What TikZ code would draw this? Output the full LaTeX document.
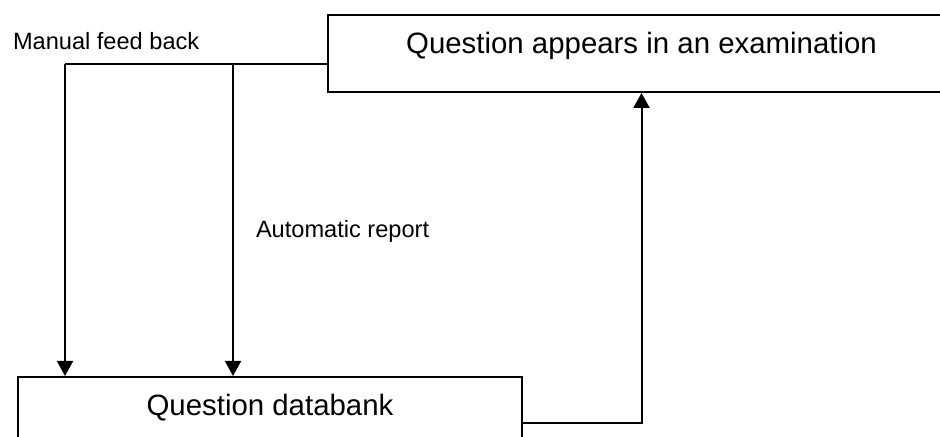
\documentclass[tikz,border=0pt]{standalone}
\usepackage{fontspec}
\setmainfont{Liberation Sans}
\usetikzlibrary{arrows.meta, calc}

\begin{document}
\begin{tikzpicture}[x=0.5pt, y=-0.5pt, >={Triangle[width=8pt,length=7.5pt]},
	line width=1pt, line join=miter,
	box/.style={draw, line width=1pt, inner xsep=0pt, inner ysep=0pt,
		text height=19.5pt, text depth=19pt, font=\fontsize{14.7}{17}\selectfont},
	tag/.style={inner sep=0pt, font=\fontsize{11.8}{14}\selectfont}]
%========================
% page frame
%========================
\useasboundingbox (0,0) rectangle (940,437);
\clip (0,0) rectangle (940,437);

% boxes
\node[box, anchor=north west, minimum width=313.5pt] (exam) at (327,14)
	{Question appears in an examination};
\node[box, anchor=north west, minimum width=252pt, text height=19pt] (databank) at (17,376)
	{Question databank};

% labels
\node[tag, anchor=base west] (manual) at (12,50) {Manual feed back};
\node[tag, anchor=base west] (auto) at (255,238) {Automatic report};

% feedback paths
\coordinate (fb) at (65,64);
\coordinate (ar) at (233,64);
\coordinate (ret) at (641,423);
\draw (exam.west |- fb) -- (fb);
\draw[->] (fb) -- (fb |- databank.north);
\draw[->] (ar) -- (ar |- databank.north);

% databank back to examination
\draw[->] (databank.east |- ret) -| (exam.south);
\end{tikzpicture}
\end{document}
